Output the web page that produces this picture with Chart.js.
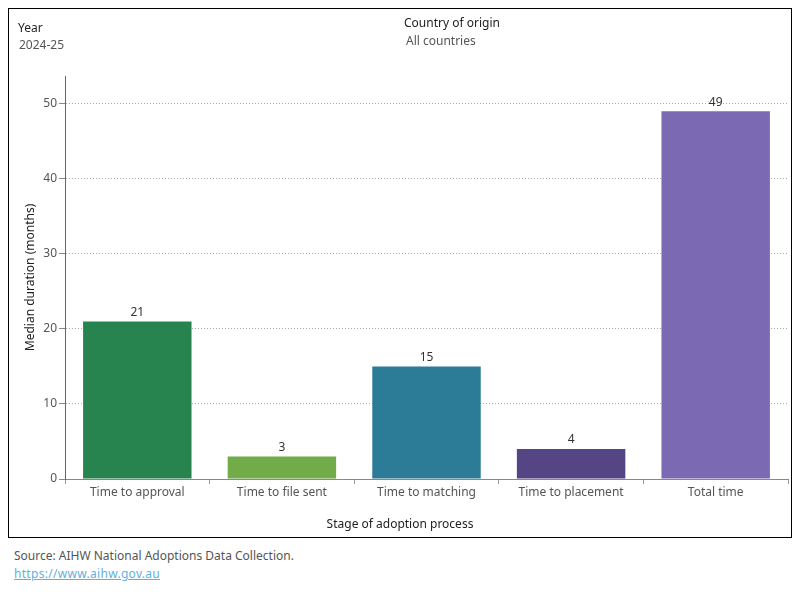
<!DOCTYPE html>
<html>
<head>
<meta charset="utf-8">
<script src="https://cdn.jsdelivr.net/npm/chart.js@4/dist/chart.umd.min.js"></script>
<style>
    body { margin: 0; font-family: "Noto Sans", sans-serif; background: #fff; }
    #frame { position: absolute; left: 8px; top: 8px; width: 782px; height: 528px; border: 1px solid #000; }
    #chartWrap { position: absolute; left: 0; top: 0; width: 782px; height: 528px; }
    .lbl { position: absolute; font-size: 12px; white-space: nowrap; }
    .head { color: #222; }
    .sub { color: #555; }
    #xTitle { left: 0; width: 782px; text-align: center; top: 506px; color: #222; }
    #footer { position: absolute; left: 14px; top: 547px; font-size: 12px; color: #555; line-height: 18px; }
    #footer a { color: #5fb0e0; letter-spacing: 0.3px; }
</style>
</head>
<body>
<div id="frame">
    <div id="chartWrap"><canvas id="adoptionChart" width="782" height="528"></canvas></div>
    <div class="lbl head" style="left:9px; top:10px;">Year</div>
    <div class="lbl sub" style="left:10px; top:27px;">2024-25</div>
    <div class="lbl head" style="left:395px; top:5px;">Country of origin</div>
    <div class="lbl sub" style="left:397px; top:23px;">All countries</div>
    <div class="lbl" id="xTitle">Stage of adoption process</div>
</div>
<div id="footer">
    Source: AIHW National Adoptions Data Collection.<br>
    <a href="https://www.aihw.gov.au">https://www.aihw.gov.au</a>
</div>
<script>
const stages = ['Time to approval', 'Time to file sent', 'Time to matching', 'Time to placement', 'Total time'];
const medianMonths = [21, 3, 15, 4, 49];
const barColors = ['#27844e', '#71ac48', '#2c7c97', '#554584', '#7b69b3'];
const yTicks = [0, 10, 20, 30, 40, 50];

// value labels above each bar
const valueLabels = {
    id: 'valueLabels',
    afterDatasetsDraw(chart) {
        const ctx = chart.ctx;
        const meta = chart.getDatasetMeta(0);
        ctx.save();
        ctx.font = '12px "Noto Sans"';
        ctx.fillStyle = '#333';
        ctx.textAlign = 'center';
        ctx.textBaseline = 'bottom';
        meta.data.forEach((bar, i) => {
            ctx.fillText(medianMonths[i], bar.x, bar.y - 3);
        });
        ctx.restore();
    }
};

const ctx = document.getElementById('adoptionChart').getContext('2d');

new Chart(ctx, {
    type: 'bar',
    data: {
        labels: stages,
        datasets: [{
            label: 'Median duration (months)',
            data: medianMonths,
            backgroundColor: barColors,
            borderWidth: 0,
            categoryPercentage: 0.75,
            barPercentage: 1
        }]
    },
    options: {
        responsive: false,
        animation: false,
        layout: { padding: { left: 0, top: 67, right: 3, bottom: 0 } },
        plugins: {
            legend: { display: false },
            tooltip: { enabled: false }
        },
        scales: {
            x: {
                offset: true,
                grid: {
                    offset: true,
                    color: 'rgba(0,0,0,0)',
                    tickColor: '#999',
                    tickLength: 5,
                    tickWidth: 1
                },
                border: { color: '#888', width: 1 },
                ticks: {
                    color: '#555',
                    font: { family: 'Noto Sans', size: 12 },
                    padding: 1,
                    maxRotation: 0,
                    autoSkip: false
                },
                afterFit(scale) { scale.height = 58; }
            },
            y: {
                min: 0,
                max: 53.7,
                afterBuildTicks(scale) {
                    scale.ticks = yTicks.map(v => ({ value: v }));
                },
                grid: {
                    color: ctx => ctx.tick && ctx.tick.value === 0 ? 'rgba(0,0,0,0)' : '#aaa',
                    tickColor: '#888',
                    tickLength: 6,
                    lineWidth: 1
                },
                border: { color: '#666', width: 1, dash: [1, 2] },
                ticks: {
                    color: '#555',
                    font: { family: 'Noto Sans', size: 12 },
                    padding: 2
                },
                title: {
                    display: true,
                    text: 'Median duration (months)',
                    color: '#222',
                    font: { family: 'Noto Sans', size: 12 },
                    padding: { top: 14, bottom: 0 }
                },
                afterFit(scale) { scale.width = 56; }
            }
        }
    },
    plugins: [valueLabels]
});
</script>
</body>
</html>
